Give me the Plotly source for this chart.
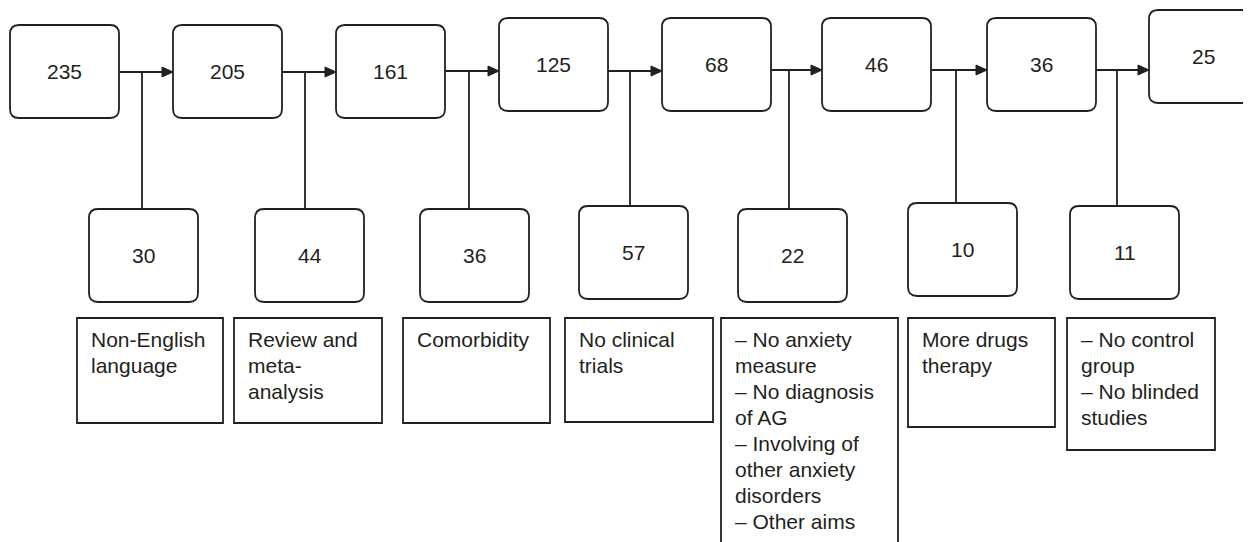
import plotly.graph_objects as go

# ---- data ----
remaining = [235, 205, 161, 125, 68, 46, 36, 25]
excluded = [30, 44, 36, 57, 22, 10, 11]
reasons = [
    ["Non-English", "language"],
    ["Review and", "meta-", "analysis"],
    ["Comorbidity"],
    ["No clinical", "trials"],
    ["– No anxiety", "measure", "– No diagnosis", "of AG", "– Involving of",
     "other anxiety", "disorders", "– Other aims"],
    ["More drugs", "therapy"],
    ["– No control", "group", "– No blinded", "studies"],
]

# ---- layout constants (pixel positions of the diagram) ----
W, H = 1251, 542
OFF = 8  # page body margin
INK = "#231f20"
FONT = "Liberation Sans, Arial, sans-serif"
FS = 21
LW = 1.8
LINE_STEP = 26.1

TOP_X0 = [10, 173, 336, 499, 662, 822, 987, 1149]
TOP_Y0 = [25, 25, 25, 18, 18, 18, 18, 10]
TOP_W, TOP_H = 109, 93

BOT_X0 = [89, 255, 420, 579, 738, 908, 1070]
BOT_Y0 = [209, 209, 209, 206, 209, 203, 206]
BOT_W, BOT_H = 109, 93

LINK_X = [142, 305, 469, 630, 789, 956, 1117]
LINK_Y = [72, 72, 71, 71, 70, 70, 70]

TXT_X0 = [77, 234, 403, 565, 721, 908, 1067]
TXT_X1 = [223, 382, 550, 713, 898, 1055, 1215]
TXT_Y0 = 318
TXT_Y1 = [423, 423, 423, 422, 570, 427, 450]

R = 9  # corner radius


def rounded(x0, y0, x1, y1, r=R):
    return (f"M {x0+r},{y0} L {x1-r},{y0} Q {x1},{y0} {x1},{y0+r} "
            f"L {x1},{y1-r} Q {x1},{y1} {x1-r},{y1} L {x0+r},{y1} "
            f"Q {x0},{y1} {x0},{y1-r} L {x0},{y0+r} Q {x0},{y0} {x0+r},{y0} Z")


shapes = []
annotations = []
line = dict(color=INK, width=LW)
font = dict(family=FONT, size=FS, color=INK)

# top boxes
for i, val in enumerate(remaining):
    x0, y0 = TOP_X0[i], TOP_Y0[i]
    x1 = x0 + TOP_W if i < len(remaining) - 1 else 1262
    y1 = y0 + TOP_H
    shapes.append(dict(type="path", path=rounded(x0, y0, x1, y1), line=line,
                       fillcolor="white"))
    annotations.append(dict(x=x0 + TOP_W / 2, y=(y0 + y1) / 2, text=str(val),
                            showarrow=False, font=font,
                            xanchor="center", yanchor="middle"))

# links, arrows, bottom boxes, reason boxes
for i, val in enumerate(excluded):
    ya = LINK_Y[i]
    xs = TOP_X0[i] + TOP_W
    xe = TOP_X0[i + 1]
    shapes.append(dict(type="line", x0=xs, y0=ya, x1=xe - 10, y1=ya, line=line))
    shapes.append(dict(type="path",
                       path=f"M {xe-11},{ya-5} L {xe},{ya} L {xe-11},{ya+5} Z",
                       line=dict(color=INK, width=1), fillcolor=INK))
    # vertical connector
    shapes.append(dict(type="line", x0=LINK_X[i], y0=ya, x1=LINK_X[i],
                       y1=BOT_Y0[i], line=line))
    # bottom rounded box
    bx0, by0 = BOT_X0[i], BOT_Y0[i]
    shapes.append(dict(type="path", path=rounded(bx0, by0, bx0 + BOT_W, by0 + BOT_H),
                       line=line, fillcolor="white"))
    annotations.append(dict(x=bx0 + BOT_W / 2, y=by0 + BOT_H / 2, text=str(val),
                            showarrow=False, font=font,
                            xanchor="center", yanchor="middle"))
    # reason box
    shapes.append(dict(type="rect", x0=TXT_X0[i], y0=TXT_Y0, x1=TXT_X1[i],
                       y1=TXT_Y1[i], line=line, fillcolor="white"))
    for k, txt in enumerate(reasons[i]):
        annotations.append(dict(x=TXT_X0[i] + 12, y=TXT_Y0 + 21 + k * LINE_STEP,
                                text=txt, showarrow=False,
                                xanchor="left", yanchor="middle", font=font))

fig = go.Figure()
fig.update_layout(
    width=W - OFF, height=H - OFF,
    margin=dict(l=0, r=0, t=0, b=0),
    paper_bgcolor="white", plot_bgcolor="white",
    xaxis=dict(range=[OFF, W], visible=False, fixedrange=True),
    yaxis=dict(range=[H, OFF], visible=False, fixedrange=True),
    shapes=shapes, annotations=annotations,
    showlegend=False,
)
fig.write_html("out.html")
